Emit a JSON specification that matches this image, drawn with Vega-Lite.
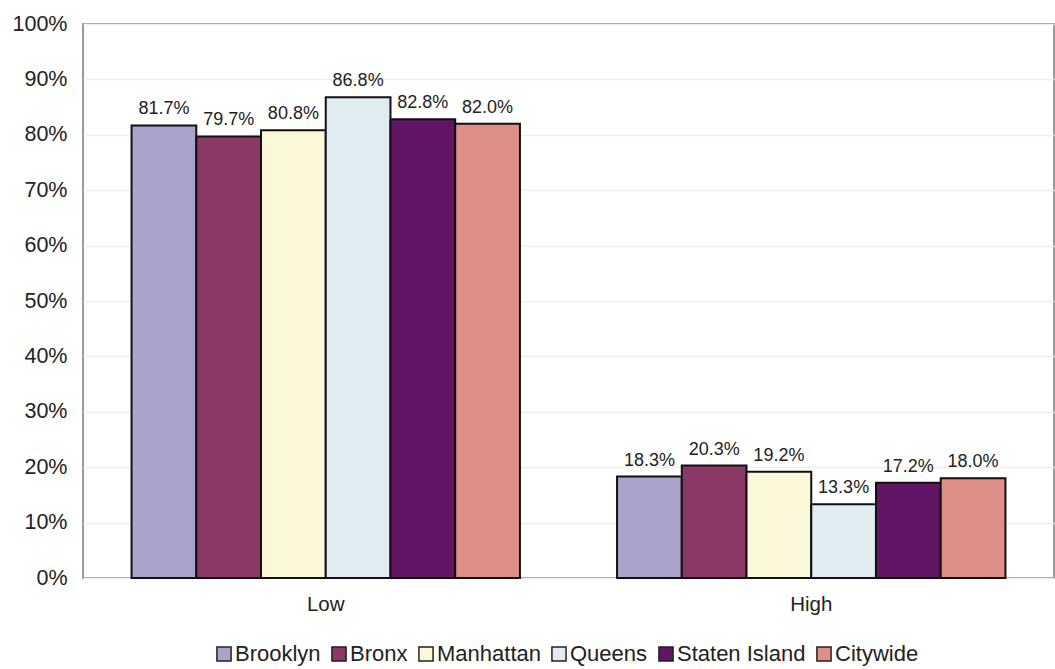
{
  "$schema": "https://vega.github.io/schema/vega-lite/v6.json",
  "width": 971,
  "height": 554,
  "autosize": {"type": "none"},
  "padding": {"left": 83, "top": 24, "right": 1, "bottom": 91},
  "background": "white",
  "config": {
    "font": "Liberation Sans",
    "view": {"stroke": "#9a9a9a", "strokeWidth": 2},
    "axis": {"labelColor": "#222222", "titleColor": "#222222"}
  },
  "data": {
    "values": [
      {"level": "Low", "borough": "Brooklyn", "share": 0.817},
      {"level": "Low", "borough": "Bronx", "share": 0.797},
      {"level": "Low", "borough": "Manhattan", "share": 0.808},
      {"level": "Low", "borough": "Queens", "share": 0.868},
      {"level": "Low", "borough": "Staten Island", "share": 0.828},
      {"level": "Low", "borough": "Citywide", "share": 0.820},
      {"level": "High", "borough": "Brooklyn", "share": 0.183},
      {"level": "High", "borough": "Bronx", "share": 0.203},
      {"level": "High", "borough": "Manhattan", "share": 0.192},
      {"level": "High", "borough": "Queens", "share": 0.133},
      {"level": "High", "borough": "Staten Island", "share": 0.172},
      {"level": "High", "borough": "Citywide", "share": 0.180}
    ]
  },
  "encoding": {
    "x": {
      "field": "level",
      "type": "nominal",
      "sort": ["Low", "High"],
      "scale": {"paddingInner": 0.2, "paddingOuter": 0.1},
      "axis": {
        "title": null,
        "labelAngle": 0,
        "labelFontSize": 20.5,
        "labelPadding": 16,
        "ticks": false,
        "domain": false
      }
    },
    "xOffset": {
      "field": "borough",
      "type": "nominal",
      "sort": ["Brooklyn", "Bronx", "Manhattan", "Queens", "Staten Island", "Citywide"],
      "scale": {"paddingInner": 0, "paddingOuter": 0}
    },
    "y": {
      "field": "share",
      "type": "quantitative",
      "scale": {"domain": [0, 1], "nice": false},
      "axis": {
        "title": null,
        "format": ".0%",
        "values": [0, 0.1, 0.2, 0.3, 0.4, 0.5, 0.6, 0.7, 0.8, 0.9, 1],
        "labelFontSize": 21.5,
        "labelPadding": 16,
        "ticks": false,
        "domain": false,
        "grid": true,
        "gridColor": "#efefef",
        "gridWidth": 1.5
      }
    }
  },
  "layer": [
    {
      "mark": {"type": "bar", "stroke": "#111111", "strokeWidth": 2, "opacity": 1},
      "encoding": {
        "color": {
          "field": "borough",
          "type": "nominal",
          "sort": ["Brooklyn", "Bronx", "Manhattan", "Queens", "Staten Island", "Citywide"],
          "scale": {
            "domain": ["Brooklyn", "Bronx", "Manhattan", "Queens", "Staten Island", "Citywide"],
            "range": ["#aba3cb", "#8b3866", "#faf8d9", "#e1ebf2", "#621565", "#df8f87"]
          },
          "legend": {
            "title": null,
            "orient": "none",
            "direction": "horizontal",
            "legendX": 130,
            "legendY": 619,
            "symbolType": "square",
            "symbolSize": 200,
            "symbolStrokeColor": "#222222",
            "symbolStrokeWidth": 1.5,
            "symbolOpacity": 1,
            "labelFontSize": 22,
            "labelColor": "#222222",
            "labelOffset": 0,
            "columnPadding": 7
          }
        }
      }
    },
    {
      "mark": {"type": "text", "baseline": "bottom", "dy": -7, "fontSize": 18, "color": "#222222"},
      "encoding": {
        "text": {"field": "share", "type": "quantitative", "format": ".1%"}
      }
    }
  ]
}
